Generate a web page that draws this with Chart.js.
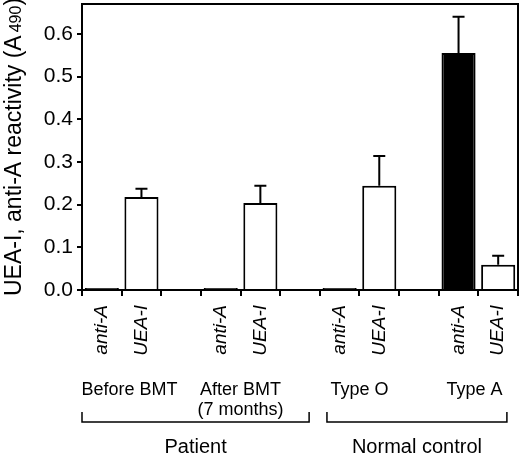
<!DOCTYPE html>
<html>
<head>
<meta charset="utf-8">
<script src="https://cdn.jsdelivr.net/npm/chart.js@4.4.1/dist/chart.umd.min.js"></script>
<style>
  body { margin: 0; background: #fff; }
  #wrap { width: 520px; height: 455px; }
</style>
</head>
<body>
<div id="wrap"><canvas id="chart" width="520" height="455"></canvas></div>
<script>
// groups of samples, two bars each
const groups = ['Before BMT', 'After BMT', 'Type O', 'Type A'];
const groupSub = ['', '(7 months)', '', ''];
const supergroups = ['Patient', 'Normal control'];
const series = ['anti-A', 'UEA-I'];

const antiA = [0.003, 0.003, 0.003, 0.555];
const antiASd = [0, 0, 0, 0.085];
const ueaI = [0.218, 0.204, 0.244, 0.059];
const ueaISd = [0.019, 0.040, 0.070, 0.021];

const yTicks = [0, 0.1, 0.2, 0.3, 0.4, 0.5, 0.6];

// build the 11 slots: anti-A, UEA-I, gap, ...
const labels = [], values = [], sds = [], colors = [];
groups.forEach((g, i) => {
  labels.push(series[0], series[1]);
  values.push(antiA[i], ueaI[i]);
  sds.push(antiASd[i], ueaISd[i]);
  colors.push('#000', '#fff');
  if (i < groups.length - 1) {
    labels.push('');
    values.push(null);
    sds.push(0);
    colors.push('#fff');
  }
});

const FONT = '"Liberation Sans", Arial, Helvetica, sans-serif';

const decorations = {
  id: 'decorations',
  afterDatasetsDraw(chart) {
    const ctx = chart.ctx;
    const area = chart.chartArea;
    const ys = chart.scales.y;
    const meta = chart.getDatasetMeta(0);
    ctx.save();
    ctx.strokeStyle = '#000';
    ctx.lineWidth = 2;

    // error bars (upper only)
    meta.data.forEach((bar, i) => {
      if (!sds[i] || values[i] == null) return;
      const top = ys.getPixelForValue(values[i] + sds[i]);
      ctx.beginPath();
      ctx.moveTo(bar.x, bar.y);
      ctx.lineTo(bar.x, top);
      ctx.moveTo(bar.x - 6, top);
      ctx.lineTo(bar.x + 6, top);
      ctx.stroke();
    });

    // frame top and right
    ctx.beginPath();
    ctx.moveTo(area.left, area.top);
    ctx.lineTo(area.right, area.top);
    ctx.lineTo(area.right, area.bottom);
    ctx.stroke();
    ctx.restore();
  },
  afterDraw(chart) {
    const ctx = chart.ctx;
    const area = chart.chartArea;
    const xs = chart.scales.x;
    const w = xs.getPixelForValue(1) - xs.getPixelForValue(0);
    const px = v => xs.getPixelForValue(0) + v * w;
    const b = area.bottom;
    ctx.save();
    ctx.fillStyle = '#000';
    ctx.strokeStyle = '#000';

    // group labels
    const groupPos = [0.7, 3.5, 6.5, 9.4];
    ctx.font = '18px ' + FONT;
    ctx.textAlign = 'center';
    ctx.textBaseline = 'alphabetic';
    groups.forEach((g, i) => {
      ctx.fillText(g, px(groupPos[i]), b + 105);
      if (groupSub[i]) ctx.fillText(groupSub[i], px(groupPos[i]), b + 125);
    });

    // brackets
    const brackets = [[-0.5, 5.23], [5.68, 10.22]];
    ctx.lineWidth = 1.5;
    brackets.forEach(([a, c], i) => {
      const x1 = px(a), x2 = px(c);
      ctx.beginPath();
      ctx.moveTo(x1, b + 122);
      ctx.lineTo(x1, b + 132);
      ctx.lineTo(x2, b + 132);
      ctx.lineTo(x2, b + 122);
      ctx.stroke();
      ctx.font = '20px ' + FONT;
      ctx.fillText(supergroups[i], (x1 + x2) / 2, b + 163);
    });

    // y axis title with smaller 490
    const main = 'UEA-I, anti-A reactivity (A';
    const small = '490';
    const end = ')';
    ctx.font = '23px ' + FONT;
    const w1 = ctx.measureText(main).width;
    const w3 = ctx.measureText(end).width;
    ctx.font = '16px ' + FONT;
    const w2 = ctx.measureText(small).width + 3;
    const total = w1 + w2 + w3;
    ctx.translate(21, (area.top + area.bottom) / 2 + total / 2);
    ctx.rotate(-Math.PI / 2);
    ctx.textAlign = 'left';
    ctx.font = '23px ' + FONT;
    ctx.fillText(main, 0, 0);
    ctx.font = '16px ' + FONT;
    ctx.fillText(small, w1 + 3, 0);
    ctx.font = '23px ' + FONT;
    ctx.fillText(end, w1 + w2, 0);
    ctx.restore();
  }
};

new Chart(document.getElementById('chart'), {
  type: 'bar',
  data: {
    labels: labels,
    datasets: [{
      data: values,
      backgroundColor: colors,
      borderColor: '#000',
      borderWidth: 2,
      borderSkipped: 'bottom',
      minBarLength: 2,
      barPercentage: 0.86,
      categoryPercentage: 1
    }]
  },
  options: {
    responsive: false,
    animation: false,
    layout: { padding: { top: 4, right: 2, left: 0, bottom: 0 } },
    plugins: { legend: { display: false }, tooltip: { enabled: false } },
    scales: {
      x: {
        afterFit: s => { s.height = 165; s.paddingLeft = 0; s.paddingRight = 0; },
        grid: { drawOnChartArea: false, tickLength: 6, color: '#000', lineWidth: 2 },
        border: { color: '#000', width: 2 },
        ticks: {
          autoSkip: false,
          minRotation: 90,
          maxRotation: 90,
          padding: 9,
          color: '#000',
          font: { family: FONT, size: 19, style: 'italic' }
        }
      },
      y: {
        min: 0,
        max: 0.67,
        afterFit: s => { s.width = 82; s.paddingTop = 0; s.paddingBottom = 0; },
        afterBuildTicks: s => { s.ticks = yTicks.map(v => ({ value: v })); },
        grid: { drawOnChartArea: false, tickLength: 5, color: '#000', lineWidth: 2 },
        border: { color: '#000', width: 2 },
        ticks: {
          padding: 4,
          color: '#000',
          font: { family: FONT, size: 21 },
          callback: v => v.toFixed(1)
        }
      }
    }
  },
  plugins: [decorations]
});
</script>
</body>
</html>
